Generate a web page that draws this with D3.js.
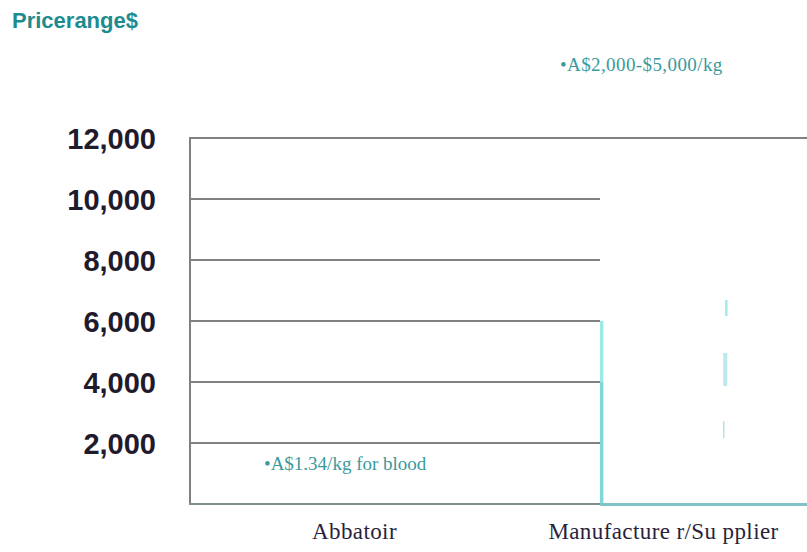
<!DOCTYPE html>
<html>
<head>
<meta charset="utf-8">
<script src="https://cdn.jsdelivr.net/npm/d3@7"></script>
<style>
  html, body { margin: 0; padding: 0; background: #fff; }
  svg { display: block; }
</style>
</head>
<body>
<svg id="chart" width="807" height="552"></svg>
<script>
// Price range by supply-chain stage
const categories = ["Abbatoir", "Manufacture r/Su pplier"];
const yTicks = [2000, 4000, 6000, 8000, 10000, 12000];
const yMax = 12000;
// manufacturer column: body fills to the top, visible edge steps
const columnTop = [null, 12000];
const edgeSteps = [0, 4000, 6000];
// price-range whisker pieces (low, high)
const rangeLow = [6164, 3869, 2164];
const rangeHigh = [6689, 4951, 2721];
const notes = ["•A$1.34/kg for blood", "•A$2,000-$5,000/kg"];

(function draw() {
  const svg = d3.select("#chart");
  const plotLeft = 190, plotRight = 818, plotTop = 138, plotBottom = 504;

  const y = d3.scaleLinear().domain([0, yMax]).range([plotBottom, plotTop]);
  const x = d3.scaleBand().domain(categories).range([200, plotRight]);

  // title
  svg.append("text")
    .attr("x", 12).attr("y", 28)
    .attr("font-family", "Liberation Sans, Arial, sans-serif")
    .attr("font-weight", "bold").attr("font-size", 22)
    .attr("fill", "#1e8c8f")
    .text("Pricerange$");

  // gridlines
  svg.append("g").selectAll("line").data(yTicks).join("line")
    .attr("x1", plotLeft).attr("x2", d => d === yMax ? 807 : 600)
    .attr("y1", d => y(d)).attr("y2", d => y(d))
    .attr("stroke", "#808080").attr("stroke-width", 2);

  // y axis labels
  const yAxis = d3.axisLeft(y).tickValues(yTicks).tickFormat(d3.format(",")).tickSize(0).tickPadding(0);
  const gy = svg.append("g").attr("transform", "translate(156,0)").call(yAxis);
  gy.select(".domain").remove();
  gy.selectAll("text")
    .attr("font-family", "Liberation Sans, Arial, sans-serif")
    .attr("font-weight", "bold").attr("font-size", 29)
    .attr("fill", "#1f1a2c").attr("dy", "0.35em");

  // axis frame
  svg.append("line").attr("x1", plotLeft).attr("x2", plotLeft)
    .attr("y1", y(yMax) - 1).attr("y2", y(0) + 1)
    .attr("stroke", "#808080").attr("stroke-width", 2);
  svg.append("line").attr("x1", plotLeft - 1).attr("x2", 600)
    .attr("y1", y(0)).attr("y2", y(0))
    .attr("stroke", "#7f8f8c").attr("stroke-width", 2);

  // manufacturer column
  const colX = x(categories[1]) + x.bandwidth() * 0.295;
  svg.append("rect")
    .attr("x", colX).attr("y", y(columnTop[1]) + 1)
    .attr("width", 807 - colX).attr("height", y(0) - y(columnTop[1]) - 1)
    .attr("fill", "#fff");
  const edgeColors = ["#80d6da", "#9de9e6"];
  for (let i = 0; i < edgeSteps.length - 1; i++) {
    svg.append("line")
      .attr("x1", colX + 1.5).attr("x2", colX + 1.5)
      .attr("y1", y(edgeSteps[i])).attr("y2", y(edgeSteps[i + 1]))
      .attr("stroke", edgeColors[i]).attr("stroke-width", 3.5);
  }
  svg.append("line")
    .attr("x1", colX).attr("x2", 807)
    .attr("y1", y(0) + 0.5).attr("y2", y(0) + 0.5)
    .attr("stroke", "#7fc3c6").attr("stroke-width", 3);

  // whisker pieces
  const wx = x(categories[1]) + x.bandwidth() * 0.7;
  const wColors = ["#a3ebea", "#bde9eb", "#b6e0ea"];
  const wWidths = [2.5, 4, 1.5];
  const wShift = [1, 0, -1.5];
  svg.append("g").selectAll("line").data(rangeLow).join("line")
    .attr("x1", (d, i) => wx + wShift[i]).attr("x2", (d, i) => wx + wShift[i])
    .attr("y1", d => y(d)).attr("y2", (d, i) => y(rangeHigh[i]))
    .attr("stroke", (d, i) => wColors[i]).attr("stroke-width", (d, i) => wWidths[i]);

  // notes
  svg.append("text")
    .attr("x", 264).attr("y", 470)
    .attr("font-family", "Liberation Serif, Times New Roman, serif")
    .attr("font-size", 19).attr("fill", "#3a9a9c")
    .text(notes[0]);
  svg.append("text")
    .attr("x", 560).attr("y", 71)
    .attr("font-family", "Liberation Serif, Times New Roman, serif")
    .attr("font-size", 19).attr("letter-spacing", 0.4).attr("fill", "#3a9a9c")
    .text(notes[1]);

  // category labels
  const xAxis = d3.axisBottom(x).tickSize(0).tickPadding(0);
  const gx = svg.append("g").attr("transform", "translate(0,539)").call(xAxis);
  gx.select(".domain").remove();
  gx.selectAll("text")
    .attr("font-family", "Liberation Serif, Times New Roman, serif")
    .attr("font-size", 23).attr("letter-spacing", 0.4)
    .attr("fill", "#2a1f3c").attr("dy", 0).attr("y", 0);
})();
</script>
</body>
</html>
